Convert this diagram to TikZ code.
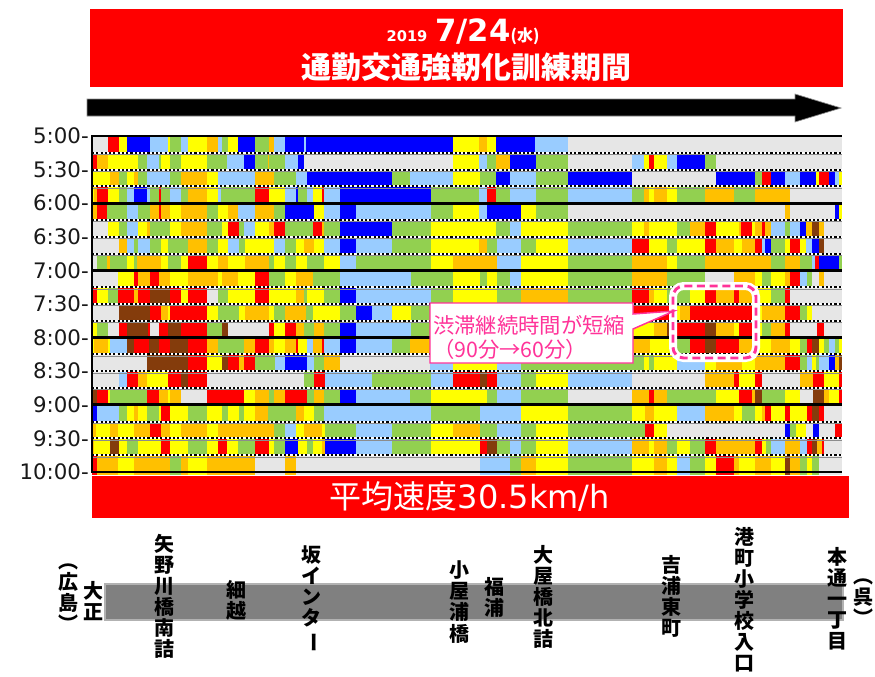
\documentclass[tikz,border=0pt]{standalone}
\usepackage{fontspec}
\usepackage{graphicx}
\newfontfamily\cjk{Noto Sans CJK JP}
\newfontfamily\dv{DejaVu Sans}
\definecolor{hR}{HTML}{FF0000}
\definecolor{hO}{HTML}{FFC000}
\definecolor{hY}{HTML}{FFFF00}
\definecolor{hG}{HTML}{92D050}
\definecolor{hL}{HTML}{99CCFF}
\definecolor{hB}{HTML}{0000FF}
\definecolor{hW}{HTML}{E6E6E6}
\definecolor{hN}{HTML}{843C0C}
\definecolor{pinkc}{HTML}{FF3399}
\definecolor{bandgray}{HTML}{808080}
\newcommand\hmrow[3][16.8]{%
  \pgfmathsetmacro\yt{136+(#2-1)*16.8}%
  \pgfmathsetmacro\yb{\yt+#1}%
  \foreach \xe/\cc [remember=\xe as \xs (initially 92)] in {#3} {%
    \fill[fill=h\cc] (\xs,\yt) rectangle (\xe+0.3,\yb);
  }%
}
\newcommand\vbar{\rotatebox[origin=c]{-90}{ー}}
\begin{document}
\begin{tikzpicture}[x=0.75pt,y=-0.75pt,
  ticklab/.style={anchor=east, font=\dv\fontsize{16}{18}\selectfont, text=black!90, inner sep=0pt},
  vlab/.style={align=center, inner sep=0pt, font=\cjk\bfseries\fontsize{15}{15.8}\selectfont},
  sepline/.style={line width=1.6pt},
  hourline/.style={black, line width=2pt}]
\useasboundingbox (0,0) rectangle (875,676);
\fill[white] (0,0) rectangle (875,676);
% title
\fill[hR] (90,9) rectangle (843,87);
\node[anchor=base, text=white, inner sep=0pt] (tl1) at (463,41)
  {\dv\bfseries\fontsize{11}{13}\selectfont 2019\hspace{6pt}\fontsize{23}{26}\selectfont 7/24\cjk\bfseries\fontsize{12}{13}\selectfont(水)};
\node[text=white, inner sep=0pt, font=\cjk\bfseries\fontsize{22.5}{24}\selectfont] (tl2) at (466,67) {通勤交通強靭化訓練期間};
% arrow
\fill[black, draw=black!45, line width=0.5pt] (87,99) -- (795,99) -- (795,94) -- (841,108) -- (795,122) -- (795,116) -- (87,116) -- cycle;
% heat map rows
\hmrow{1}{108/W,119/R,127/Y,150/B,168/L,170/Y,181/G,188/L,207/Y,218/O,222/L,228/G,238/Y,255/B,269/G,274/O,285/L,304/B,306/L,453/B,479/Y,487/O,496/Y,535/B,568/L,842/W}
\hmrow{2}{97/R,108/O,138/Y,147/G,159/L,161/G,170/Y,181/G,207/Y,227/G,244/L,255/B,268/G,269/O,285/G,298/L,304/B,453/W,479/Y,487/L,496/G,510/O,536/B,568/G,632/W,644/L,649/Y,654/R,667/Y,677/L,705/B,716/G,842/W}
\hmrow{3}{110/Y,119/O,127/G,134/Y,138/O,147/G,170/L,181/G,207/O,218/Y,255/L,274/O,296/G,307/L,392/B,410/G,453/L,480/Y,496/G,510/B,536/L,568/G,632/B,716/W,755/B,762/G,771/R,785/B,800/L,816/B,819/Y,829/R,835/B,839/L,842/Y}
\hmrow{4}{94/Y,97/O,108/R,119/Y,127/G,134/L,147/B,150/L,159/G,161/R,170/G,181/L,188/G,207/O,218/Y,221/L,255/G,269/R,285/Y,296/L,298/B,307/G,313/L,322/Y,324/R,340/L,431/B,479/G,487/L,496/R,510/G,536/L,568/G,632/L,644/G,649/O,654/Y,667/O,677/Y,705/G,734/O,755/G,790/O,842/W}
\hmrow{5}{97/O,107/R,127/G,138/L,150/G,159/O,161/R,170/O,181/Y,207/O,218/G,228/Y,238/O,255/L,274/O,285/G,314/B,324/Y,340/L,356/B,431/L,453/G,479/Y,487/L,521/B,536/Y,568/G,785/W,790/O,835/W,839/B,842/Y}
\hmrow{6}{108/W,119/Y,127/G,138/L,147/Y,150/O,170/G,181/Y,207/O,222/G,228/Y,239/R,244/G,255/L,269/Y,274/O,285/R,313/G,322/R,324/O,340/G,392/B,431/G,496/Y,510/G,521/L,568/Y,632/G,644/Y,649/O,677/Y,690/G,705/O,716/R,739/Y,741/O,752/R,755/Y,762/O,765/R,771/O,785/L,790/G,800/L,806/B,812/O,819/N,824/O,842/W}
\hmrow{7}{119/W,127/O,134/L,138/G,150/L,161/G,168/Y,188/G,207/O,218/G,228/Y,239/L,245/G,274/Y,285/L,296/G,304/Y,314/O,324/Y,340/L,356/B,392/L,431/G,479/Y,487/O,497/G,521/L,536/G,568/Y,632/L,649/R,667/Y,677/G,705/Y,716/R,734/O,742/Y,755/O,762/R,765/L,771/B,785/G,790/Y,800/R,806/Y,812/L,819/B,824/N,842/W}
\hmrow{8}{97/W,107/G,110/O,127/G,134/Y,137/G,161/O,168/Y,181/G,188/Y,207/R,218/Y,228/O,245/Y,269/O,274/G,285/Y,296/G,307/Y,324/G,340/Y,356/L,431/G,453/Y,497/O,521/L,568/Y,632/G,667/O,677/Y,705/G,771/O,785/G,800/O,812/G,815/L,819/R,839/B,842/G}
\hmrow{9}{118/W,134/Y,138/R,150/O,159/R,170/O,188/Y,218/O,222/Y,238/O,255/Y,269/R,285/G,296/Y,313/O,340/G,411/L,453/G,480/Y,487/G,497/Y,510/G,521/L,568/Y,632/G,667/O,705/G,734/W,755/O,762/Y,771/G,785/Y,790/O,800/R,807/L,812/G,819/W,824/O,842/W}
\hmrow{10}{97/R,108/Y,118/G,134/R,138/O,150/R,170/N,181/R,188/Y,207/R,218/W,228/G,255/Y,269/R,296/Y,304/O,307/G,324/Y,340/G,356/B,431/L,453/G,497/Y,521/G,568/O,632/G,649/R,654/O,667/Y,690/G,705/Y,716/R,734/O,739/R,755/O,771/Y,785/G,790/R,842/W}
\hmrow{11}{119/W,150/N,161/R,168/O,170/Y,207/R,218/Y,239/G,245/Y,269/O,274/Y,285/G,306/O,313/G,340/Y,356/G,372/B,392/L,411/Y,632/G,670/R,680/Y,690/O,755/R,762/Y,785/O,800/R,807/G,812/Y,842/W}
\hmrow{12}{97/Y,108/G,119/W,127/R,148/N,150/R,159/W,168/R,181/N,207/R,222/G,228/N,269/W,274/R,285/Y,296/R,304/O,314/G,324/O,340/G,356/B,411/L,632/G,654/Y,667/O,670/N,705/R,716/N,734/O,739/Y,752/R,755/O,762/Y,771/G,785/O,790/R,817/W,824/R,842/W}
\hmrow{13}{94/Y,108/O,110/Y,127/L,134/N,149/R,159/N,170/R,188/N,207/R,218/O,244/G,255/O,269/R,274/O,285/Y,296/O,298/R,307/Y,313/L,322/O,324/R,340/L,356/B,392/L,410/G,431/O,632/G,650/O,670/Y,690/G,705/R,716/N,739/R,755/O,771/Y,790/O,800/Y,807/G,812/R,819/N,824/Y,829/G,835/L,839/G,842/Y}
\hmrow{14}{147/W,188/N,207/R,222/Y,228/N,239/R,244/O,255/R,275/G,285/L,307/B,314/L,324/G,340/O,430/W,453/L,497/Y,521/L,644/G,649/Y,654/G,677/Y,705/L,716/Y,742/O,755/Y,785/O,800/R,807/G,812/L,816/Y,819/G,829/L,835/B,839/O,842/N}
\hmrow{15}{119/W,127/L,138/R,147/O,168/Y,181/R,188/N,207/R,304/W,314/G,325/R,372/L,431/G,453/L,480/R,487/N,497/R,521/L,536/G,568/Y,632/L,705/W,734/O,739/R,755/Y,762/R,800/W,813/O,824/R,839/Y,842/R}
\hmrow{16}{97/N,108/R,110/Y,147/G,159/R,168/O,170/Y,181/O,207/W,244/R,255/Y,269/O,274/G,285/O,307/R,314/G,324/O,340/G,356/B,410/L,431/G,487/Y,497/G,521/L,568/G,632/W,649/O,654/R,667/O,716/G,739/Y,752/R,755/O,762/N,785/G,800/Y,813/W,824/N,829/O,839/Y,842/R}
\hmrow{17}{97/B,119/L,127/G,134/Y,138/O,147/Y,159/G,161/Y,170/R,188/Y,207/G,222/Y,228/G,239/Y,244/G,255/Y,268/O,296/G,304/O,314/Y,324/G,431/L,480/G,521/L,568/Y,632/G,645/Y,654/O,677/Y,705/L,734/O,742/Y,755/G,762/Y,765/O,771/R,785/Y,790/R,807/Y,812/R,819/N,824/R,842/W}
\hmrow{18}{96/O,110/Y,118/O,134/Y,150/O,161/R,170/O,181/Y,207/O,218/Y,274/O,285/G,296/L,304/Y,322/O,325/Y,356/G,392/L,431/G,453/Y,480/O,497/G,521/L,536/G,568/Y,645/G,654/R,667/Y,785/W,790/B,796/G,806/Y,813/W,819/B,835/W,842/R}
\hmrow{19}{94/O,110/Y,119/N,127/Y,138/G,161/Y,170/R,188/Y,207/G,218/Y,227/R,238/Y,255/G,269/R,274/Y,285/G,298/B,307/Y,313/G,322/Y,325/O,356/B,392/L,431/G,480/Y,487/R,497/N,510/G,521/L,536/G,568/Y,632/L,649/O,654/Y,667/O,677/G,690/Y,705/G,716/R,755/O,762/R,766/Y,771/G,785/L,800/O,807/L,812/R,817/N,822/O,824/R,842/W}
\hmrow[20]{20}{97/R,118/O,134/Y,170/O,181/G,188/O,207/Y,255/O,285/W,296/O,480/W,510/L,521/G,536/O,568/Y,632/G,654/Y,667/O,677/Y,690/L,705/G,716/Y,734/R,739/O,755/Y,771/O,785/Y,790/N,800/O,807/G,812/Y,819/G,842/W}
% quarter separators
\foreach \yy in {152.8,169.6,186.4,220,236.8,253.6,287.2,304,320.8,354.4,371.2,388,421.6,438.4,455.2} {
  \draw[sepline, white] (92,\yy) -- (842,\yy);
  \draw[sepline, black, dash pattern=on 1.6pt off 1.6pt] (92,\yy) -- (842,\yy);
  \draw[black!45, line width=0.6pt] (92,\yy+1.7) -- (842,\yy+1.7);
}
\foreach \yy in {136,203.2,270.4,337.6,404.8,472} {
  \draw[hourline] (92,\yy) -- (842,\yy);
}
\draw[black, line width=0.9pt] (92,135) -- (92,473);
% time labels
\node[ticklab] (t1) at (89,136) {5:00-};
\node[ticklab] (t2) at (89,169.6) {5:30-};
\node[ticklab] (t3) at (89,203.2) {6:00-};
\node[ticklab] (t4) at (89,236.8) {6:30-};
\node[ticklab] (t5) at (89,270.4) {7:00-};
\node[ticklab] (t6) at (89,304) {7:30-};
\node[ticklab] (t7) at (89,337.6) {8:00-};
\node[ticklab] (t8) at (89,371.2) {8:30-};
\node[ticklab] (t9) at (89,404.8) {9:00-};
\node[ticklab] (t10) at (89,438.4) {9:30-};
\node[ticklab] (t11) at (89,472) {10:00-};
% speed box
\fill[hR] (92,476) rectangle (849,518);
\node[text=white, inner sep=0pt] (spd) at (470,497) {\cjk\fontsize{24}{26}\selectfont 平均速度\dv 30.5km/h};
% dashed highlight
\draw[white, line width=6pt, rounded corners=8pt] (673,286) rectangle (756,358);
\draw[pinkc, line width=2.2pt, dash pattern=on 6pt off 3.5pt, rounded corners=8pt] (673,286) rectangle (756,358);
% callout
\filldraw[fill=white, draw=pinkc, line width=1.1pt] (430,303) -- (633,303) -- (633,314) -- (674,311) -- (633,329) -- (633,363) -- (430,363) -- cycle;
\node[anchor=west, align=left, text=pinkc, inner sep=0pt, font=\cjk\fontsize{16}{18}\selectfont] (note) at (433,337) {渋滞継続時間が短縮\\（90分→60分）};
% road band
\fill[bandgray, draw=black!30, line width=0.8pt] (105,584) rectangle (843,620);
\node[vlab] (hiroshima) at (68,598) {︵\\広\\島\\︶};
\node[vlab] (taisho) at (93,601) {大\\正};
\node[vlab] (yanogawa) at (164,596) {矢\\野\\川\\橋\\南\\詰};
\node[vlab] (hosogoe) at (236,600) {細\\越};
\node[vlab] (saka) at (311,599) {坂\\イ\\ン\\タ\\\vbar};
\node[vlab] (koyaura) at (459,602) {小\\屋\\浦\\橋};
\node[vlab] (fukuura) at (494,597) {福\\浦};
\node[vlab] (oya) at (543,597) {大\\屋\\橋\\北\\詰};
\node[vlab] (yoshiura) at (671,596) {吉\\浦\\東\\町};
\node[vlab] (minato) at (744,600) {港\\町\\小\\学\\校\\入\\口};
\node[vlab] (hondori) at (837,599) {本\\通\\一\\丁\\目};
\node[vlab] (kure) at (863,602) {︵\\呉\\︶};
\end{tikzpicture}
\end{document}
